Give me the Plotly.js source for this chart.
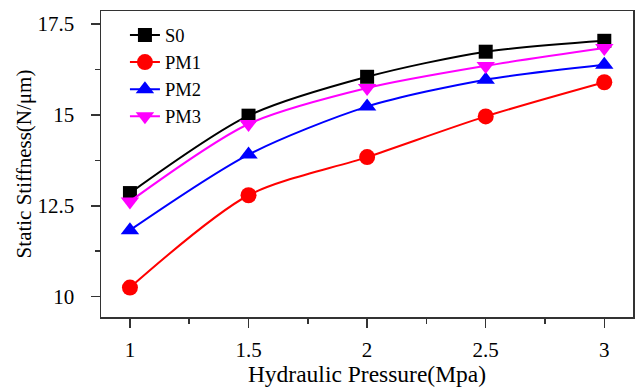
<!DOCTYPE html>
<html>
<head>
<meta charset="utf-8">
<script src="https://cdn.plot.ly/plotly-3.0.1.min.js"></script>
<style>html,body{margin:0;padding:0;background:#fff}#chart{width:635px;height:387px}</style>
</head>
<body>
<div id="chart"></div>
<script>
const pressure = [1, 1.5, 2, 2.5, 3];
const seriesNames = ["S0", "PM1", "PM2", "PM3"];
const S0  = [12.85, 14.98, 16.05, 16.74, 17.04];
const PM1 = [10.25, 12.79, 13.84, 14.96, 15.90];
const PM2 = [11.83, 13.91, 15.23, 15.97, 16.38];
const PM3 = [12.62, 14.75, 15.74, 16.35, 16.84];
const xTickVals = [1, 1.5, 2, 2.5, 3];
const xTickText = ["1", "1.5", "2", "2.5", "3"];
const yTickVals = [10, 12.5, 15, 17.5];
const yTickText = ["10", "12.5", "15", "17.5"];

const styles = [
  {color: "#000000", symbol: "square", size: 14},
  {color: "#ff0000", symbol: "circle", size: 16},
  {color: "#0000ff", symbol: "triangle-up", size: 16},
  {color: "#ff00ff", symbol: "triangle-down", size: 16}
];
const values = [S0, PM1, PM2, PM3];

const traces = values.map((v, i) => ({
  x: pressure, y: v, name: seriesNames[i],
  type: "scatter", mode: "lines+markers",
  line: {color: styles[i].color, width: 2, shape: "spline", smoothing: 0.8},
  marker: {color: styles[i].color, symbol: styles[i].symbol, size: styles[i].size}
}));

const FAM = '"Liberation Serif", "Times New Roman", serif';

const layout = {
  width: 635, height: 387,
  margin: {l: 101, r: 2, t: 11, b: 70},
  paper_bgcolor: "#fff", plot_bgcolor: "#fff",
  font: {family: FAM, color: "#000", size: 20},
  showlegend: true,
  legend: {x: 0.045, y: 0.982, xanchor: "left", yanchor: "top",
           bgcolor: "rgba(0,0,0,0)", font: {family: FAM, size: 18.5, color: "#000"},
           tracegroupgap: 0},
  xaxis: {
    range: [0.878, 3.121], tickvals: xTickVals, ticktext: xTickText,
    ticks: "outside", ticklen: 9, tickwidth: 1.5, tickcolor: "#333",
    minor: {ticks: "outside", ticklen: 5, tickwidth: 1.5, tickcolor: "#333", dtick: 0.25, tick0: 1},
    showline: true, linecolor: "#333", linewidth: 1.5, mirror: true,
    showgrid: false, zeroline: false, ticklabelstandoff: 4,
    tickfont: {family: FAM, size: 21, color: "#000"},
    title: {text: "Hydraulic Pressure(Mpa)", font: {family: FAM, size: 23.5, color: "#000"}, standoff: 4}
  },
  yaxis: {
    range: [9.44, 17.86], tickvals: yTickVals, ticktext: yTickText,
    ticks: "outside", ticklen: 9, tickwidth: 1.5, tickcolor: "#333",
    minor: {ticks: "outside", ticklen: 5, tickwidth: 1.5, tickcolor: "#333", dtick: 1.25, tick0: 10},
    showline: true, linecolor: "#333", linewidth: 1.5, mirror: true,
    showgrid: false, zeroline: false, ticklabelstandoff: 12,
    tickfont: {family: FAM, size: 21, color: "#000"},
    title: {text: "Static Stiffness(N/μm)", font: {family: FAM, size: 21, color: "#000"}, standoff: 0}
  }
};

Plotly.newPlot("chart", traces, layout, {displayModeBar: false, staticPlot: true});
</script>
</body>
</html>
